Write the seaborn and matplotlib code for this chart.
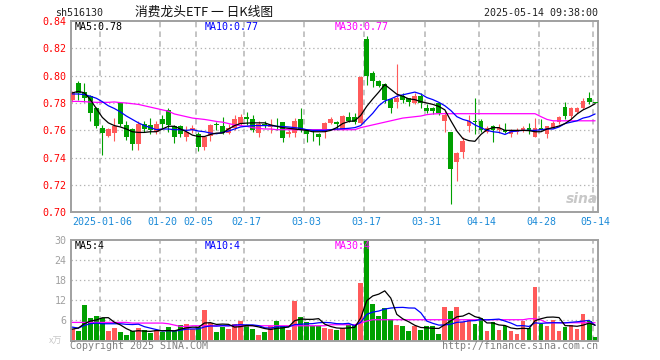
import matplotlib
matplotlib.use("Agg")
import matplotlib.pyplot as plt
import pandas as pd
import seaborn as sns

# ---------------- data ----------------
opens = [0.782, 0.795, 0.788, 0.785, 0.776, 0.762, 0.756, 0.758, 0.780, 0.764,
         0.761, 0.750, 0.765, 0.764, 0.759, 0.768, 0.775, 0.763, 0.763, 0.755,
         0.760, 0.757, 0.748, 0.756, 0.765, 0.763, 0.758, 0.762, 0.765, 0.7695,
         0.768, 0.758, 0.765, 0.7625, 0.7635, 0.766, 0.757, 0.758, 0.768, 0.7605,
         0.7575, 0.757, 0.7585, 0.7655, 0.766, 0.7605, 0.7695, 0.7695, 0.7655, 0.827,
         0.802, 0.796, 0.794, 0.783, 0.781, 0.785, 0.7835, 0.780, 0.7855, 0.7765,
         0.7765, 0.780, 0.7665, 0.7585, 0.7365, 0.744, 0.7635, 0.7665, 0.767, 0.759,
         0.763, 0.7605, 0.7605, 0.757, 0.7585, 0.7595, 0.762, 0.7555, 0.762, 0.757,
         0.762, 0.766, 0.777, 0.7705, 0.7735, 0.776, 0.784, 0.7802]
highs = [0.789, 0.796, 0.795, 0.786, 0.777, 0.764, 0.762, 0.769, 0.780, 0.767,
         0.762, 0.767, 0.767, 0.769, 0.767, 0.771, 0.776, 0.764, 0.764, 0.763,
         0.764, 0.759, 0.756, 0.765, 0.766, 0.7695, 0.7645, 0.771, 0.772, 0.7735,
         0.771, 0.7665, 0.7665, 0.768, 0.769, 0.766, 0.760, 0.769, 0.776, 0.761,
         0.760, 0.758, 0.766, 0.770, 0.7665, 0.771, 0.7735, 0.7725, 0.7995, 0.829,
         0.8035, 0.7965, 0.7945, 0.7835, 0.8085, 0.7875, 0.7835, 0.7875, 0.7875, 0.779,
         0.777, 0.781, 0.7745, 0.7585, 0.744, 0.7555, 0.7715, 0.784, 0.7685, 0.763,
         0.764, 0.7645, 0.7655, 0.761, 0.762, 0.763, 0.7655, 0.769, 0.7685, 0.763,
         0.7665, 0.7705, 0.781, 0.777, 0.777, 0.784, 0.788, 0.7805]
lows = [0.781, 0.782, 0.781, 0.767, 0.762, 0.742, 0.755, 0.752, 0.763, 0.753,
        0.746, 0.746, 0.759, 0.757, 0.757, 0.762, 0.759, 0.751, 0.755, 0.752,
        0.758, 0.745, 0.746, 0.752, 0.760, 0.757, 0.757, 0.760, 0.764, 0.764,
        0.759, 0.755, 0.762, 0.758, 0.760, 0.7515, 0.755, 0.7555, 0.759, 0.7515,
        0.752, 0.7495, 0.7545, 0.765, 0.760, 0.760, 0.766, 0.765, 0.765, 0.7935,
        0.792, 0.792, 0.780, 0.7725, 0.776, 0.780, 0.7775, 0.779, 0.7765, 0.7725,
        0.772, 0.771, 0.759, 0.706, 0.723, 0.740, 0.759, 0.7575, 0.759, 0.758,
        0.7515, 0.758, 0.758, 0.755, 0.757, 0.759, 0.757, 0.755, 0.760, 0.7545,
        0.762, 0.765, 0.7685, 0.768, 0.773, 0.7755, 0.779, 0.7800]
closes = [0.787, 0.787, 0.784, 0.773, 0.763, 0.758, 0.761, 0.763, 0.765, 0.755,
          0.750, 0.765, 0.761, 0.760, 0.765, 0.765, 0.764, 0.755, 0.757, 0.759,
          0.762, 0.748, 0.755, 0.764, 0.764, 0.758, 0.762, 0.768, 0.7695, 0.768,
          0.7605, 0.765, 0.7635, 0.764, 0.763, 0.7545, 0.7585, 0.767, 0.7605, 0.7575,
          0.757, 0.7555, 0.7655, 0.768, 0.765, 0.7705, 0.767, 0.766, 0.799, 0.7995,
          0.796, 0.7925, 0.7825, 0.776, 0.784, 0.7825, 0.781, 0.7855, 0.780, 0.7745,
          0.774, 0.7725, 0.771, 0.7315, 0.7435, 0.752, 0.767, 0.766, 0.7605, 0.762,
          0.7605, 0.762, 0.7585, 0.7605, 0.7605, 0.762, 0.7605, 0.762, 0.7605, 0.763,
          0.7655, 0.7695, 0.7705, 0.7765, 0.7765, 0.7815, 0.781, 0.780]
volumes = [3.4, 2.7, 10.6, 6.6, 7.3, 6.7, 2.9, 3.8, 2.6, 1.7,
           2.7, 3.8, 3.2, 2.2, 3.0, 2.4, 4.1, 2.7, 4.7, 5.0,
           3.4, 3.9, 9.1, 5.2, 2.4, 3.9, 3.5, 5.0, 5.9, 4.2,
           3.5, 1.7, 2.6, 4.4, 5.9, 4.2, 3.2, 11.8, 7.0, 5.4,
           4.2, 4.2, 3.7, 3.4, 3.2, 3.7, 4.7, 4.7, 17.3, 29.8,
           10.9, 7.3, 9.6, 6.5, 4.7, 4.2, 2.9, 4.4, 3.2, 4.2,
           4.2, 2.0, 10.1, 8.9, 10.1, 5.4, 6.2, 5.0, 6.7, 2.9,
           5.4, 3.2, 4.2, 2.9, 2.0, 5.9, 3.7, 15.9, 5.0, 4.2,
           6.2, 2.9, 3.9, 4.7, 3.5, 7.9, 5.9, 0.9]

ma5 = [0.7874, 0.7885, 0.7875, 0.7825, 0.776, 0.7695, 0.7655, 0.7635, 0.7625, 0.761,
       0.759, 0.7585, 0.7585, 0.759, 0.759, 0.761, 0.763, 0.763, 0.761, 0.759,
       0.7565, 0.7555, 0.7555, 0.757, 0.758, 0.758, 0.761, 0.7635, 0.765, 0.7653,
       0.7655, 0.7655, 0.7655, 0.764, 0.763, 0.762, 0.7615, 0.761, 0.7605, 0.760,
       0.759, 0.759, 0.759, 0.760, 0.762, 0.765, 0.7665, 0.767, 0.771, 0.7776,
       0.783, 0.788, 0.7935, 0.790, 0.7865, 0.785, 0.783, 0.7825, 0.781, 0.780,
       0.779, 0.7775, 0.775, 0.767, 0.7595, 0.754, 0.7525, 0.752, 0.757, 0.7605,
       0.762, 0.762, 0.760, 0.760, 0.760, 0.760, 0.7598, 0.759, 0.759, 0.761,
       0.762, 0.7632, 0.765, 0.768, 0.772, 0.775, 0.777, 0.7795]
ma10 = [0.7866, 0.7866, 0.7862, 0.785, 0.7835, 0.781, 0.778, 0.776, 0.7735, 0.7705,
        0.768, 0.7655, 0.7635, 0.762, 0.7605, 0.761, 0.761, 0.7605, 0.7605, 0.760,
        0.7605, 0.7595, 0.759, 0.758, 0.7575, 0.7585, 0.7595, 0.761, 0.7625, 0.763,
        0.7635, 0.7635, 0.7635, 0.7635, 0.763, 0.7628, 0.7625, 0.762, 0.7615, 0.7605,
        0.760, 0.760, 0.760, 0.7605, 0.761, 0.7612, 0.7615, 0.762, 0.7635, 0.768,
        0.7725, 0.778, 0.7815, 0.783, 0.785, 0.786, 0.787, 0.788, 0.7866, 0.784,
        0.7825, 0.7805, 0.778, 0.7745, 0.770, 0.768, 0.7668, 0.764, 0.762, 0.760,
        0.759, 0.7585, 0.757, 0.759, 0.7595, 0.760, 0.760, 0.760, 0.7605, 0.761,
        0.761, 0.7625, 0.765, 0.766, 0.767, 0.769, 0.770, 0.772]
ma30 = [0.7812, 0.7812, 0.781, 0.7807, 0.7805, 0.7805, 0.7805, 0.7808, 0.7803, 0.780,
        0.7795, 0.779, 0.778, 0.777, 0.776, 0.775, 0.774, 0.772, 0.771, 0.770,
        0.769, 0.7685, 0.768, 0.7673, 0.7665, 0.766, 0.765, 0.764, 0.7635, 0.763,
        0.762, 0.7615, 0.761, 0.761, 0.7605, 0.7605, 0.7605, 0.7605, 0.7605, 0.7605,
        0.7605, 0.7605, 0.7605, 0.7605, 0.7605, 0.7605, 0.7605, 0.7605, 0.762, 0.763,
        0.764, 0.765, 0.766, 0.767, 0.768, 0.769, 0.7695, 0.770, 0.7705, 0.7715,
        0.772, 0.7722, 0.7722, 0.7722, 0.7722, 0.7722, 0.7722, 0.7722, 0.7722, 0.7722,
        0.7722, 0.7722, 0.7722, 0.7722, 0.7722, 0.7722, 0.7722, 0.7722, 0.770, 0.768,
        0.767, 0.767, 0.767, 0.767, 0.767, 0.767, 0.767, 0.767]

vma5 = [3.4, 3.7, 5.0, 5.8, 6.12, 6.78, 6.82, 5.46, 4.66, 3.54,
        2.74, 2.92, 2.8, 2.72, 2.98, 2.92, 2.98, 2.88, 3.38, 3.78,
        3.98, 3.94, 5.22, 5.32, 4.8, 4.9, 4.82, 4.0, 4.14, 4.5,
        4.42, 4.06, 3.58, 3.28, 3.62, 3.76, 4.06, 5.9, 6.42, 6.32,
        6.32, 6.52, 4.9, 4.18, 3.74, 3.64, 3.74, 3.94, 6.72, 11.88,
        13.3, 13.84, 14.82, 12.66, 7.8, 6.46, 5.58, 4.54, 3.88, 3.78,
        3.64, 3.6, 4.74, 5.88, 7.08, 7.3, 8.14, 7.12, 6.66, 5.24,
        5.24, 4.64, 4.48, 3.74, 3.5, 3.64, 3.54, 5.9, 6.5, 6.94,
        7.0, 6.84, 4.44, 4.38, 4.24, 4.58, 5.18, 4.58]
vma10 = [4.0, 3.7, 4.5, 5.0, 5.2, 5.0, 5.0, 5.0, 5.0, 4.83,
         4.76, 4.87, 4.13, 3.69, 3.26, 2.83, 2.95, 2.84, 3.05, 3.38,
         3.45, 3.46, 4.05, 4.35, 4.29, 4.44, 4.38, 4.61, 4.73, 4.65,
         4.66, 4.44, 3.79, 3.71, 4.06, 4.09, 4.06, 4.74, 4.85, 4.97,
         5.04, 5.29, 5.4, 5.3, 5.03, 4.98, 5.13, 4.42, 5.45, 7.81,
         8.48, 8.79, 9.38, 9.69, 9.84, 9.89, 9.71, 9.68, 8.27, 5.79,
         5.12, 4.59, 4.64, 4.88, 5.42, 5.54, 5.87, 5.93, 6.28, 6.15,
         6.27, 6.39, 5.8, 5.2, 4.39, 4.44, 4.19, 5.28, 5.11, 5.24,
         5.32, 5.29, 5.26, 5.44, 5.59, 5.79, 6.01, 4.51]
vma30 = [5.4, 5.4, 5.4, 5.4, 5.4, 5.4, 5.4, 5.4, 5.4, 5.4,
         5.2, 5.2, 5.2, 5.2, 5.2, 5.2, 5.0, 4.6, 4.2, 4.2,
         4.4, 4.4, 4.4, 4.4, 4.4, 4.4, 4.4, 4.4, 4.4, 4.4,
         4.4, 4.4, 4.4, 4.4, 4.4, 4.4, 4.4, 4.4, 4.4, 4.4,
         4.4, 4.4, 4.4, 4.7, 4.7, 4.7, 4.7, 4.7, 5.2, 5.8,
         6.2, 6.2, 6.2, 6.2, 6.2, 6.2, 6.2, 6.2, 6.2, 6.2,
         6.2, 6.2, 6.2, 6.2, 6.2, 6.2, 6.2, 6.2, 6.2, 6.2,
         6.2, 6.2, 6.2, 6.2, 6.2, 6.2, 6.5, 6.5, 6.1, 5.3,
         5.3, 5.3, 5.3, 5.3, 5.3, 5.3, 5.3, 5.3]

tick_idx = [5, 15, 21, 29, 39, 49, 59, 68, 78, 87]
tick_labels = ["2025-01-06", "01-20", "02-05", "02-17", "03-03",
               "03-17", "03-31", "04-14", "04-28", "05-14"]
price_ticks = [0.70, 0.72, 0.74, 0.76, 0.78, 0.80, 0.82, 0.84]
vol_ticks = [6, 12, 18, 24, 30]

# ---------------- style ----------------
sns.set_style("white")
plt.rcParams['font.family'] = ['DejaVu Sans Mono', 'Noto Sans CJK SC']
plt.rcParams['lines.scale_dashes'] = False

RED = '#ff5a5a'
GREEN = '#00a000'
GRID = '#b4b4b4'
FRAME = '#a0a0a0'

W, H = 660, 360
fig = plt.figure(figsize=(6.6, 3.6), dpi=100)
L, R = 70.7, 598.0
ax = fig.add_axes([L / W, 1 - 212.4 / H, (R - L) / W, (212.4 - 21.0) / H])
axv = fig.add_axes([L / W, 1 - 340.5 / H, (R - L) / W, (340.5 - 240.0) / H])

n = len(closes)
idx = list(range(n))
df = pd.DataFrame({"i": idx, "open": opens, "high": highs, "low": lows,
                   "close": closes, "vol": volumes, "ma5": ma5, "ma10": ma10,
                   "ma30": ma30, "vma5": vma5, "vma10": vma10, "vma30": vma30})
df["up"] = df["close"] >= df["open"]
df["color"] = [RED if u else GREEN for u in df["up"]]

xlim = (-0.26, 87.48)
for a in (ax, axv):
    a.set_xlim(*xlim)
    for s in a.spines.values():
        s.set_color(FRAME)
        s.set_linewidth(1.4)
    for t in tick_idx:
        a.axvline(t - 0.38, color=GRID, lw=1.1, ls=(0, (4, 3)), zorder=0)

ax.set_ylim(0.70, 0.84)
axv.set_ylim(0, 30)
for y in price_ticks[1:-1]:
    ax.axhline(y, color=GRID, lw=0.9, ls=(0, (1, 2)), zorder=0)
for y in vol_ticks[:-1]:
    axv.axhline(y, color=GRID, lw=0.9, ls=(0, (1, 2)), zorder=0)

# candles
bw = 0.8
ax.vlines(df["i"], df["low"], df["high"], colors=df["color"], lw=0.8, zorder=2)
body_bottom = df[["open", "close"]].min(axis=1)
body_h = (df["close"] - df["open"]).abs().clip(lower=0.0004)
ax.bar(df["i"], body_h, bottom=body_bottom, width=bw, color=df["color"],
       linewidth=0, zorder=3)

# volume bars
axv.bar(df["i"], df["vol"], width=bw, color=df["color"], linewidth=0, zorder=2)

# moving averages via seaborn
for col, c in (("ma30", "#ff00ff"), ("ma10", "#0000ff"), ("ma5", "#000000")):
    sns.lineplot(data=df, x="i", y=col, ax=ax, color=c, lw=0.9, zorder=4)
for col, c in (("vma30", "#ff00ff"), ("vma10", "#0000ff"), ("vma5", "#000000")):
    sns.lineplot(data=df, x="i", y=col, ax=axv, color=c, lw=0.9, zorder=4)

ax.set_xlabel("")
ax.set_ylabel("")
axv.set_xlabel("")
axv.set_ylabel("")

ax.set_yticks(price_ticks)
ax.set_yticklabels([f"{v:.2f}" for v in price_ticks])
ax.tick_params(axis='y', length=0, pad=3, labelsize=7.2, labelcolor='#ff0000')
ax.set_xticks(tick_idx)
ax.set_xticklabels(tick_labels)
ax.tick_params(axis='x', length=0, pad=3.5, labelsize=7.2, labelcolor='#1a8ad8')

axv.set_yticks(vol_ticks)
axv.set_yticklabels([str(v) for v in vol_ticks])
axv.tick_params(axis='y', length=0, pad=3, labelsize=7.2, labelcolor='#a0a0a0')
axv.set_xticks([])


def ftxt(x, y, s, **kw):
    fig.text(x / W, 1 - y / H, s, **kw)


# header
ftxt(55, 12.5, "sh516130", fontsize=7.2, color='#222222', va='center', ha='left')
ftxt(135, 12, "消费龙头ETF 一 日K线图", fontsize=9.2, color='#111111',
     va='center', ha='left', family=['Noto Sans CJK SC', 'DejaVu Sans'])
ftxt(598, 12.5, "2025-05-14 09:38:00", fontsize=7.2, color='#222222',
     va='center', ha='right')

# MA legends
ftxt(75, 26.5, "MA5:0.78", fontsize=7.2, color='black', va='center')
ftxt(205, 26.5, "MA10:0.77", fontsize=7.2, color='#0000ff', va='center')
ftxt(335, 26.5, "MA30:0.77", fontsize=7.2, color='#ff00ff', va='center')
ftxt(75, 246, "MA5:4", fontsize=7.2, color='black', va='center')
ftxt(205, 246, "MA10:4", fontsize=7.2, color='#0000ff', va='center')
ftxt(335, 246, "MA30:4", fontsize=7.2, color='#ff00ff', va='center', zorder=1)

# footer
ftxt(56, 341.5, "x万", fontsize=6.5, color='#c8c8c8', va='center', ha='center',
     family=['Noto Sans CJK SC', 'DejaVu Sans'])
ftxt(70, 346, "Copyright 2025 SINA.COM", fontsize=7.2, color='#808080', va='center')
ftxt(598, 346, "http://finance.sina.com.cn", fontsize=7.2, color='#808080',
     va='center', ha='right')

# watermark
ftxt(582, 199, "sina", fontsize=10, color='#c8c8c8', va='center', ha='center',
     style='italic', weight='bold', family=['DejaVu Sans'])

fig.savefig("out.png", dpi=100)
